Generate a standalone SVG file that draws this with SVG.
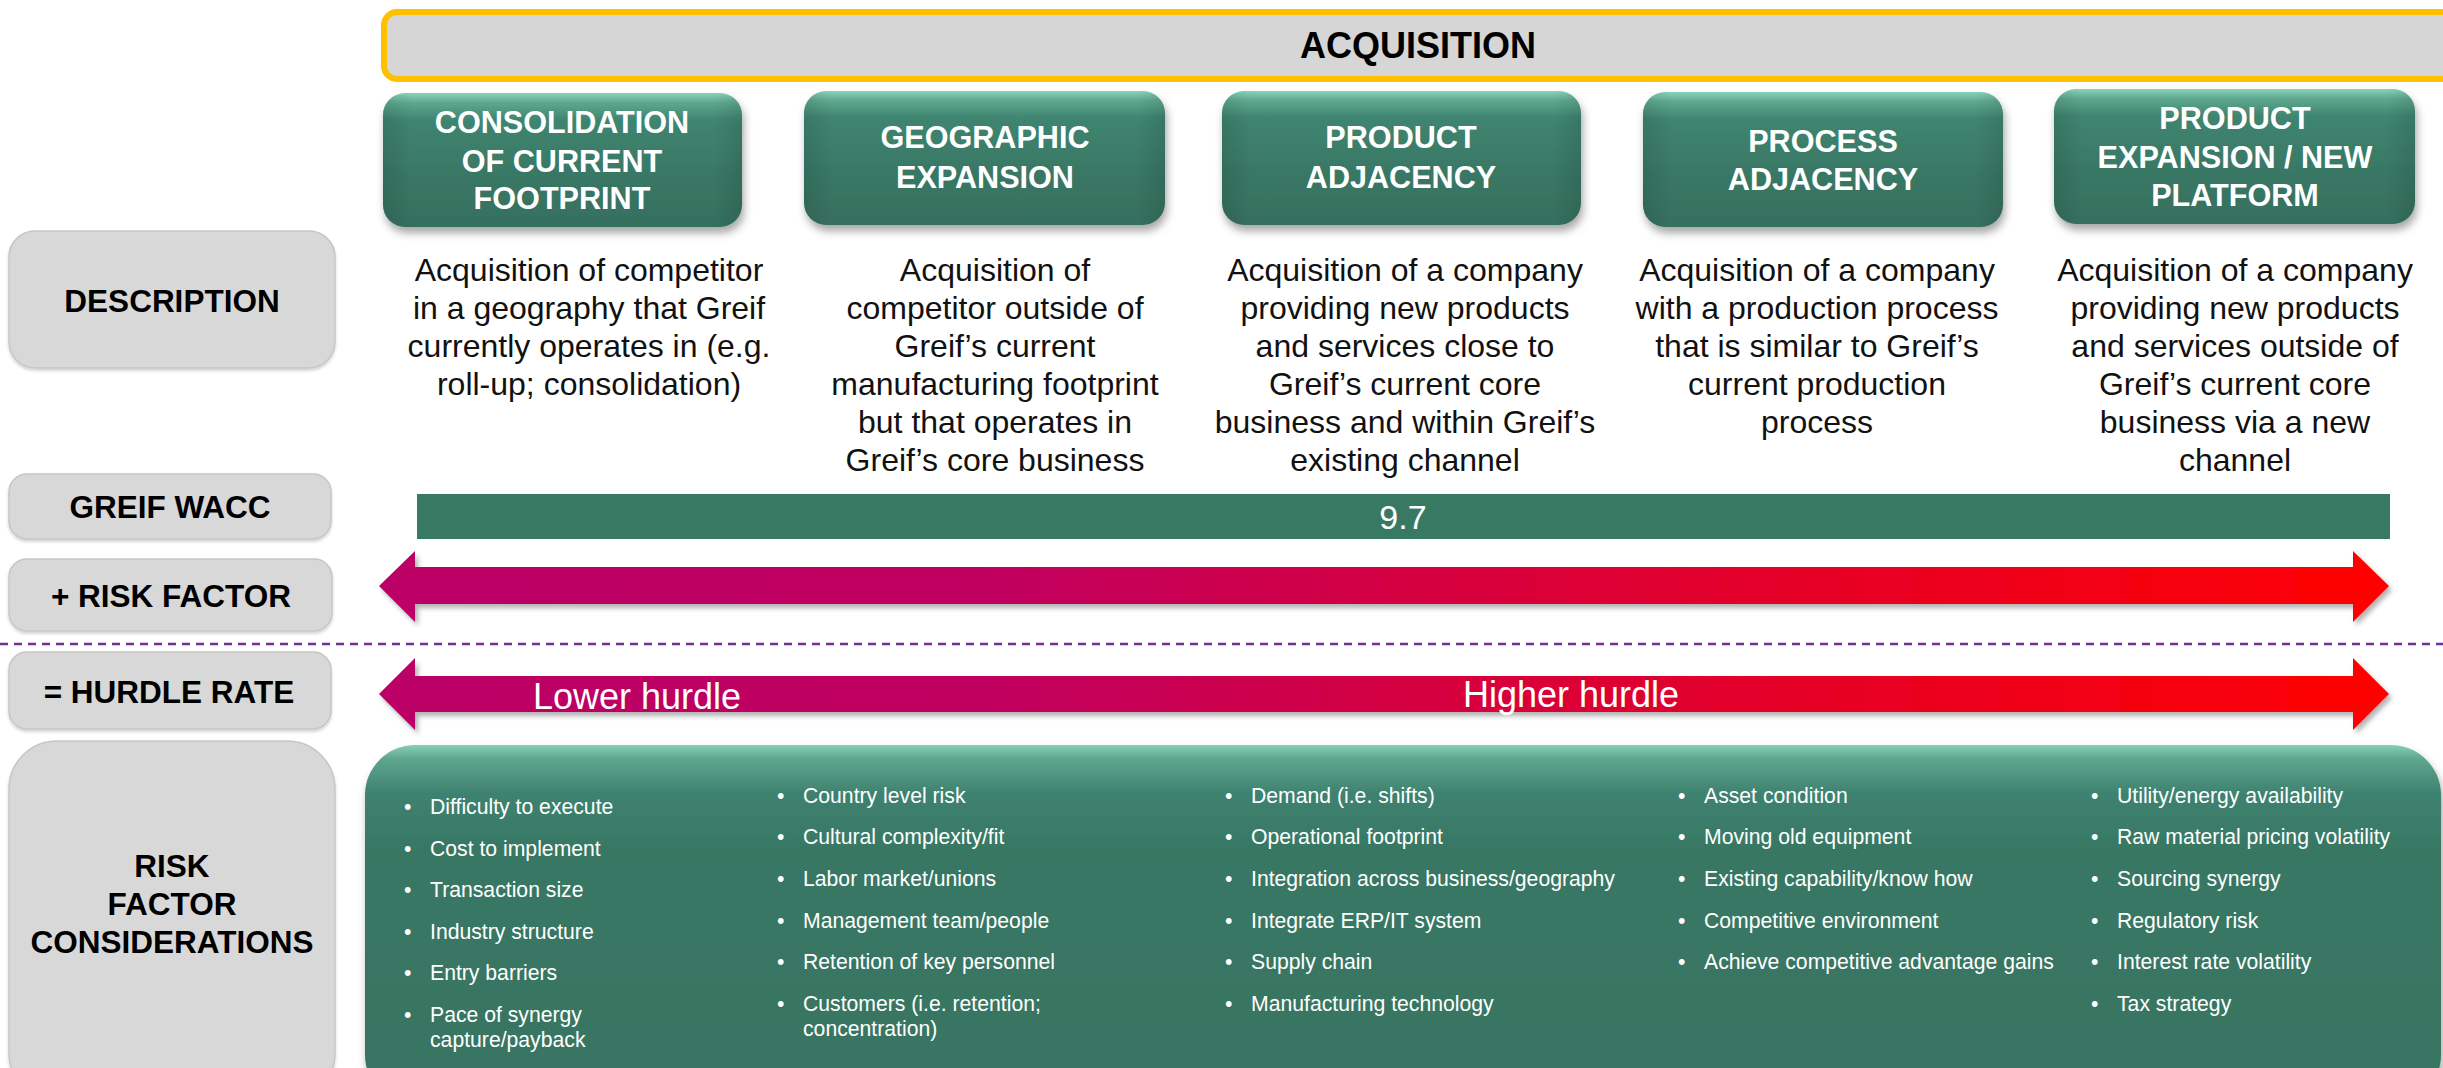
<svg xmlns="http://www.w3.org/2000/svg" width="2443" height="1068" viewBox="0 0 2443 1068">
<defs>
  <linearGradient id="gHead" x1="0" y1="0" x2="0" y2="1">
    <stop offset="0" stop-color="#8AD3BA"/>
    <stop offset="0.07" stop-color="#5FA990"/>
    <stop offset="0.2" stop-color="#3F8570"/>
    <stop offset="0.6" stop-color="#397865"/>
    <stop offset="1" stop-color="#366F5E"/>
  </linearGradient>
  <linearGradient id="gSide" x1="0" y1="0" x2="1" y2="0">
    <stop offset="0" stop-color="#000" stop-opacity="0.10"/>
    <stop offset="0.08" stop-color="#000" stop-opacity="0"/>
    <stop offset="0.92" stop-color="#000" stop-opacity="0"/>
    <stop offset="1" stop-color="#000" stop-opacity="0.10"/>
  </linearGradient>
  <linearGradient id="gRisk" x1="0" y1="745" x2="0" y2="1090" gradientUnits="userSpaceOnUse">
    <stop offset="0" stop-color="#86D0B7"/>
    <stop offset="0.04" stop-color="#5EA68E"/>
    <stop offset="0.14" stop-color="#3E8270"/>
    <stop offset="0.3" stop-color="#387864"/>
    <stop offset="1" stop-color="#377562"/>
  </linearGradient>
  <linearGradient id="gArrow" x1="379" y1="0" x2="2389" y2="0" gradientUnits="userSpaceOnUse">
    <stop offset="0" stop-color="#BB0066"/>
    <stop offset="0.3" stop-color="#C0005F"/>
    <stop offset="0.6" stop-color="#DC0035"/>
    <stop offset="1" stop-color="#FF0000"/>
  </linearGradient>
  <filter id="shadow" x="-5%" y="-20%" width="110%" height="150%">
    <feDropShadow dx="2" dy="6" stdDeviation="4" flood-color="#000" flood-opacity="0.35"/>
  </filter>
  <filter id="ashadow" x="-2%" y="-30%" width="104%" height="170%">
    <feDropShadow dx="3" dy="4" stdDeviation="2.5" flood-color="#000" flood-opacity="0.3"/>
  </filter>
  <filter id="lshadow" x="-5%" y="-10%" width="110%" height="130%">
    <feDropShadow dx="0" dy="2" stdDeviation="1.5" flood-color="#000" flood-opacity="0.18"/>
  </filter>
</defs>
<style>
  .lbl { fill:#D8D8D8; stroke:#C6C6C6; stroke-width:1.5; }
  .lt { font-family:"Liberation Sans", Arial, sans-serif; font-weight:bold; font-size:31.5px; fill:#000; text-anchor:middle; }
  .ht { font-family:"Liberation Sans", Arial, sans-serif; font-weight:bold; font-size:30.6px; fill:#fff; text-anchor:middle; }
  .dt { font-family:"Liberation Sans", Arial, sans-serif; font-size:32px; fill:#111; text-anchor:middle; }
  .bt { font-family:"Liberation Sans", Arial, sans-serif; font-size:21.2px; fill:#fff; }
  .wt { font-family:"Liberation Sans", Arial, sans-serif; font-size:36px; fill:#fff; }
</style>
<rect width="2443" height="1068" fill="#fff"/>

<g id="acquisition">
  <rect x="384" y="12" width="2120" height="67" rx="13" fill="#D6D6D6" stroke="#FFC000" stroke-width="6"/>
  <text x="1418" y="58" font-family="Liberation Sans, Arial, sans-serif" font-weight="bold" font-size="36" text-anchor="middle" fill="#000">ACQUISITION</text>
</g>

<g id="hdr1">
  <g filter="url(#shadow)"><rect x="383" y="93" width="359" height="134" rx="22" fill="url(#gHead)"/></g>
  <rect x="383" y="93" width="359" height="134" rx="22" fill="url(#gSide)"/>
  <text class="ht"><tspan x="562" y="133">CONSOLIDATION</tspan><tspan x="562" y="172">OF CURRENT</tspan><tspan x="562" y="209">FOOTPRINT</tspan></text>
</g>
<g id="hdr2">
  <g filter="url(#shadow)"><rect x="804" y="91" width="361" height="134" rx="22" fill="url(#gHead)"/></g>
  <rect x="804" y="91" width="361" height="134" rx="22" fill="url(#gSide)"/>
  <text class="ht"><tspan x="985" y="148">GEOGRAPHIC</tspan><tspan x="985" y="188">EXPANSION</tspan></text>
</g>
<g id="hdr3">
  <g filter="url(#shadow)"><rect x="1222" y="91" width="359" height="134" rx="22" fill="url(#gHead)"/></g>
  <rect x="1222" y="91" width="359" height="134" rx="22" fill="url(#gSide)"/>
  <text class="ht"><tspan x="1401" y="148">PRODUCT</tspan><tspan x="1401" y="188">ADJACENCY</tspan></text>
</g>
<g id="hdr4">
  <g filter="url(#shadow)"><rect x="1643" y="92" width="360" height="135" rx="22" fill="url(#gHead)"/></g>
  <rect x="1643" y="92" width="360" height="135" rx="22" fill="url(#gSide)"/>
  <text class="ht"><tspan x="1823" y="152">PROCESS</tspan><tspan x="1823" y="190">ADJACENCY</tspan></text>
</g>
<g id="hdr5">
  <g filter="url(#shadow)"><rect x="2054" y="89" width="361" height="135" rx="22" fill="url(#gHead)"/></g>
  <rect x="2054" y="89" width="361" height="135" rx="22" fill="url(#gSide)"/>
  <text class="ht"><tspan x="2235" y="129">PRODUCT</tspan><tspan x="2235" y="168">EXPANSION / NEW</tspan><tspan x="2235" y="206">PLATFORM</tspan></text>
</g>

<g id="lbl-description">
  <rect class="lbl" x="9" y="231" width="326" height="137" rx="26" filter="url(#lshadow)"/>
  <text class="lt" x="172" y="312">DESCRIPTION</text>
</g>
<g id="lbl-wacc">
  <rect class="lbl" x="9" y="474" width="322" height="65" rx="18" filter="url(#lshadow)"/>
  <text class="lt" x="170" y="518">GREIF WACC</text>
</g>
<g id="lbl-risk">
  <rect class="lbl" x="9" y="559" width="323" height="72" rx="18" filter="url(#lshadow)"/>
  <text class="lt" x="171" y="607">+ RISK FACTOR</text>
</g>
<g id="lbl-hurdle">
  <rect class="lbl" x="9" y="652" width="322" height="77" rx="18" filter="url(#lshadow)"/>
  <text class="lt" x="169" y="703">= HURDLE RATE</text>
</g>
<g id="lbl-considerations">
  <rect class="lbl" x="9" y="741" width="326" height="360" rx="48" filter="url(#lshadow)"/>
  <text class="lt"><tspan x="172" y="877">RISK</tspan><tspan x="172" y="915">FACTOR</tspan><tspan x="172" y="953">CONSIDERATIONS</tspan></text>
</g>

<g id="desc1">
  <text class="dt"><tspan x="589" y="281">Acquisition of competitor</tspan><tspan x="589" y="319">in a geography that Greif</tspan><tspan x="589" y="357">currently operates in (e.g.</tspan><tspan x="589" y="395">roll-up; consolidation)</tspan></text>
</g>
<g id="desc2">
  <text class="dt"><tspan x="995" y="281">Acquisition of</tspan><tspan x="995" y="319">competitor outside of</tspan><tspan x="995" y="357">Greif’s current</tspan><tspan x="995" y="395">manufacturing footprint</tspan><tspan x="995" y="433">but that operates in</tspan><tspan x="995" y="471">Greif’s core business</tspan></text>
</g>
<g id="desc3">
  <text class="dt"><tspan x="1405" y="281">Acquisition of a company</tspan><tspan x="1405" y="319">providing new products</tspan><tspan x="1405" y="357">and services close to</tspan><tspan x="1405" y="395">Greif’s current core</tspan><tspan x="1405" y="433">business and within Greif’s</tspan><tspan x="1405" y="471">existing channel</tspan></text>
</g>
<g id="desc4">
  <text class="dt"><tspan x="1817" y="281">Acquisition of a company</tspan><tspan x="1817" y="319">with a production process</tspan><tspan x="1817" y="357">that is similar to Greif’s</tspan><tspan x="1817" y="395">current production</tspan><tspan x="1817" y="433">process</tspan></text>
</g>
<g id="desc5">
  <text class="dt"><tspan x="2235" y="281">Acquisition of a company</tspan><tspan x="2235" y="319">providing new products</tspan><tspan x="2235" y="357">and services outside of</tspan><tspan x="2235" y="395">Greif’s current core</tspan><tspan x="2235" y="433">business via a new</tspan><tspan x="2235" y="471">channel</tspan></text>
</g>

<g id="wacc-bar">
  <rect x="417" y="494" width="1973" height="45" fill="#387964"/>
  <text x="1403" y="529" font-family="Liberation Sans, Arial, sans-serif" font-size="34" fill="#fff" text-anchor="middle">9.7</text>
</g>

<g id="connectors">
  <path id="risk-arrow" filter="url(#ashadow)" fill="url(#gArrow)" d="M379,586 L415,551 L415,567 L2353,567 L2353,551 L2389,586 L2353,622 L2353,604 L415,604 L415,622 Z"/>
  <line x1="0" y1="644" x2="2443" y2="644" stroke="#7030A0" stroke-width="2.5" stroke-dasharray="8,6"/>
  <path id="hurdle-arrow" filter="url(#ashadow)" fill="url(#gArrow)" d="M379,694 L415,658 L415,676 L2353,676 L2353,658 L2389,694 L2353,730 L2353,712 L415,712 L415,730 Z"/>
</g>
<text class="wt" x="533" y="709">Lower hurdle</text>
<text class="wt" x="1463" y="707">Higher hurdle</text>

<g id="considerations">
  <g filter="url(#shadow)"><rect x="365" y="745" width="2076" height="360" rx="50" fill="url(#gRisk)"/></g>
  <g class="bt">
    <text x="404" y="814">•</text><text x="430" y="814">Difficulty to execute</text>
    <text x="404" y="856">•</text><text x="430" y="856">Cost to implement</text>
    <text x="404" y="897">•</text><text x="430" y="897">Transaction size</text>
    <text x="404" y="939">•</text><text x="430" y="939">Industry structure</text>
    <text x="404" y="980">•</text><text x="430" y="980">Entry barriers</text>
    <text x="404" y="1022">•</text><text x="430" y="1022">Pace of synergy</text>
    <text x="430" y="1047">capture/payback</text>

    <text x="777" y="803">•</text><text x="803" y="803">Country level risk</text>
    <text x="777" y="844">•</text><text x="803" y="844">Cultural complexity/fit</text>
    <text x="777" y="886">•</text><text x="803" y="886">Labor market/unions</text>
    <text x="777" y="928">•</text><text x="803" y="928">Management team/people</text>
    <text x="777" y="969">•</text><text x="803" y="969">Retention of key personnel</text>
    <text x="777" y="1011">•</text><text x="803" y="1011">Customers (i.e. retention;</text>
    <text x="803" y="1036">concentration)</text>

    <text x="1225" y="803">•</text><text x="1251" y="803">Demand (i.e. shifts)</text>
    <text x="1225" y="844">•</text><text x="1251" y="844">Operational footprint</text>
    <text x="1225" y="886">•</text><text x="1251" y="886">Integration across business/geography</text>
    <text x="1225" y="928">•</text><text x="1251" y="928">Integrate ERP/IT system</text>
    <text x="1225" y="969">•</text><text x="1251" y="969">Supply chain</text>
    <text x="1225" y="1011">•</text><text x="1251" y="1011">Manufacturing technology</text>

    <text x="1678" y="803">•</text><text x="1704" y="803">Asset condition</text>
    <text x="1678" y="844">•</text><text x="1704" y="844">Moving old equipment</text>
    <text x="1678" y="886">•</text><text x="1704" y="886">Existing capability/know how</text>
    <text x="1678" y="928">•</text><text x="1704" y="928">Competitive environment</text>
    <text x="1678" y="969">•</text><text x="1704" y="969">Achieve competitive advantage gains</text>

    <text x="2091" y="803">•</text><text x="2117" y="803">Utility/energy availability</text>
    <text x="2091" y="844">•</text><text x="2117" y="844">Raw material pricing volatility</text>
    <text x="2091" y="886">•</text><text x="2117" y="886">Sourcing synergy</text>
    <text x="2091" y="928">•</text><text x="2117" y="928">Regulatory risk</text>
    <text x="2091" y="969">•</text><text x="2117" y="969">Interest rate volatility</text>
    <text x="2091" y="1011">•</text><text x="2117" y="1011">Tax strategy</text>
  </g>
</g>
</svg>
